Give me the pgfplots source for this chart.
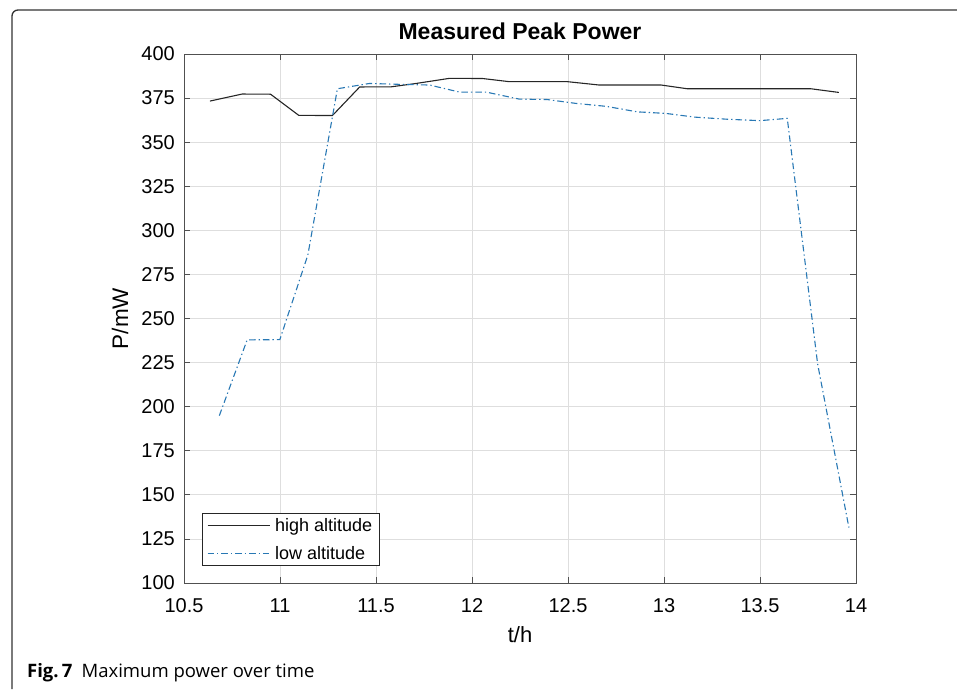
\documentclass[border=0pt]{standalone}
\usepackage{pgfplots}
\pgfplotsset{compat=1.18}
\usepackage{fontspec}
\setmainfont{Liberation Sans}
\newfontfamily\capfont{Open Sans}
\definecolor{mblue}{RGB}{40,120,180}
\definecolor{axgray}{RGB}{80,80,80}

\pgfplotstableread{
t P
10.635 373.3
10.803 377.3
10.951 377.2
11.098 365.2
11.273 365.1
11.415 381.3
11.580 381.4
11.709 383.3
11.883 386.2
12.055 386.1
12.195 384.3
12.360 384.3
12.498 384.3
12.663 382.4
12.820 382.4
12.986 382.4
13.121 380.3
13.280 380.3
13.450 380.3
13.600 380.3
13.764 380.3
13.911 378.2
}\high

\pgfplotstableread{
t P
10.684 194.9
10.829 237.9
10.999 238.0
11.145 286.0
11.299 380.3
11.467 383.3
11.620 382.8
11.779 382.4
11.935 378.4
12.074 378.4
12.247 374.4
12.390 374.2
12.540 372.0
12.700 370.3
12.860 367.2
13.010 366.3
13.160 364.2
13.330 363.0
13.500 362.2
13.642 363.5
13.800 224.3
13.963 131.4
}\low

\begin{document}
\begin{tikzpicture}
\path[use as bounding box] (0pt,0pt) rectangle (957pt,689pt);
\draw[line width=1.3pt, color=black!80, rounded corners=6pt] (12pt,0pt) -- (12pt,679pt) -- (957pt,679pt);
\node[anchor=base west, inner sep=0pt, font=\capfont\fontsize{18.5}{20}\selectfont] at (27pt,12pt) {\textbf{Fig.\,7}\hspace{0.5em}Maximum power over time};
\begin{axis}[
  at={(184pt,106pt)}, anchor=south west,
  scale only axis, width=672pt, height=529pt,
  xmin=10.5, xmax=14, ymin=100, ymax=400,
  xtick={10.5,11,11.5,12,12.5,13,13.5,14},
  ytick={100,125,150,175,200,225,250,275,300,325,350,375,400},
  /pgf/number format/assume math mode=true,
  tick label style={font=\fontsize{20}{22}\selectfont},
  xticklabel style={anchor=base, inner sep=0pt, yshift=-29pt},
  yticklabel style={anchor=east, inner sep=0pt, xshift=-9pt},
  tick align=inside, tick pos=both,
  major tick length=6pt,
  tick style={color=axgray, line width=0.8pt},
  axis line style={color=axgray, line width=1pt},
  grid=major,
  major grid style={color=black!13, line width=0.8pt},
  title={Measured Peak Power},
  title style={at={(axis description cs:0.5,1)}, anchor=base, yshift=9pt, font=\bfseries\fontsize{23}{26}\selectfont},
  xlabel={t/h},
  xlabel style={at={(axis description cs:0.5,-0.1134)}, anchor=base, font=\fontsize{22}{24}\selectfont},
  ylabel={P/mW},
  ylabel style={at={(axis description cs:-0.0833,0.5)}, anchor=base, font=\fontsize{22.5}{24}\selectfont},
  legend style={at={(rel axis cs:0.0263,0.032)}, anchor=south west,
    font=\fontsize{18}{20}\selectfont, draw=black!85, line width=0.8pt,
    inner xsep=5pt, inner ysep=3pt, row sep=9pt, column sep=3pt},
  legend cell align=left,
  legend image code/.code={\draw[#1] (0pt,0pt) -- (62pt,0pt);},
]
\addplot[color=black!85, line width=1.1pt] table[x=t,y=P] {\high};
\addlegendentry{high altitude}
\addplot[color=mblue, line width=1.1pt, dash pattern=on 6.5pt off 3pt on 1.3pt off 3pt] table[x=t,y=P] {\low};
\addlegendentry{low altitude}
\end{axis}
\end{tikzpicture}
\end{document}
